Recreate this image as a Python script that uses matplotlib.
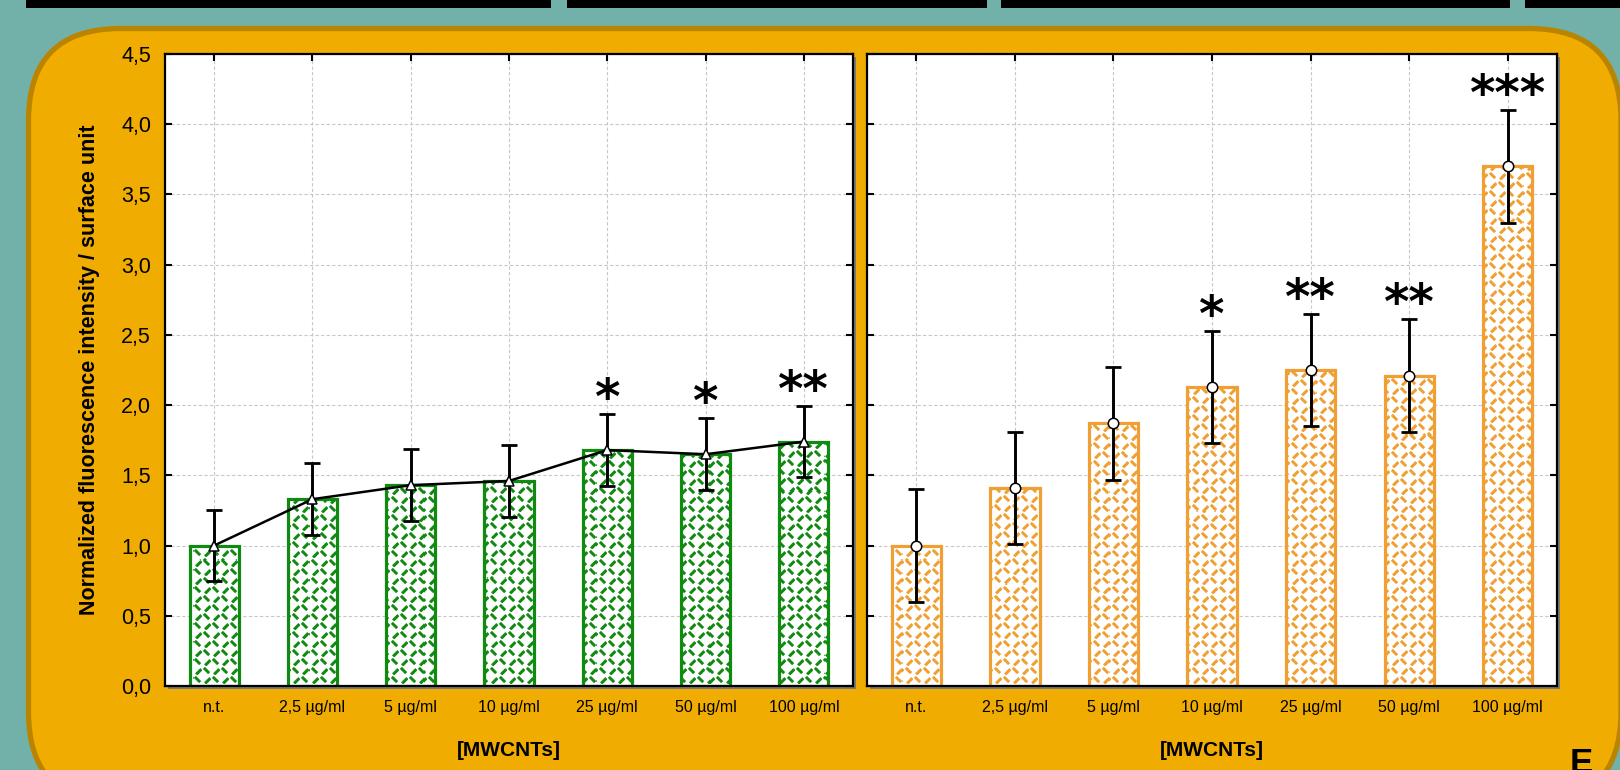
import numpy as np
import matplotlib
matplotlib.use("Agg")
import matplotlib.pyplot as plt
from matplotlib.patches import FancyBboxPatch, Rectangle
from matplotlib.transforms import IdentityTransform

# data
conc = ["n.t.", "2,5 µg/ml", "5 µg/ml", "10 µg/ml", "25 µg/ml", "50 µg/ml", "100 µg/ml"]
left_mean = [1.00, 1.33, 1.43, 1.46, 1.68, 1.65, 1.74]
left_err = [0.255, 0.255, 0.255, 0.255, 0.255, 0.255, 0.255]
left_sig = ["", "", "", "", "*", "*", "**"]
right_mean = [1.00, 1.41, 1.87, 2.13, 2.25, 2.21, 3.70]
right_err = [0.40, 0.40, 0.40, 0.40, 0.40, 0.40, 0.40]
right_sig = ["", "", "", "*", "**", "**", "***"]
yticks = [0.0, 0.5, 1.0, 1.5, 2.0, 2.5, 3.0, 3.5, 4.0, 4.5]
ytick_labels = ["0,0", "0,5", "1,0", "1,5", "2,0", "2,5", "3,0", "3,5", "4,0", "4,5"]

TEAL = "#71b1a9"
ORANGE_BG = "#f0ac00"
ORANGE_EDGE = "#b98500"
GREEN = "#118a11"
ORANGE_BAR = "#f0a033"

W, H = 1620, 770
fig = plt.figure(figsize=(W / 100, H / 100), dpi=100)
fig.patch.set_facecolor(TEAL)

# slide decorations (display pixel coords)
for x0, x1 in [(26, 551), (567, 987), (1001, 1510), (1525, 1625)]:
    fig.add_artist(Rectangle((x0, H - 8), x1 - x0, 10, transform=IdentityTransform(),
                             facecolor="black", edgecolor="none", zorder=-10))
fig.add_artist(FancyBboxPatch((28.5, -34), 1592.5, H - 28.5 + 34,
                              boxstyle="round,pad=0,rounding_size=92",
                              transform=IdentityTransform(), facecolor=ORANGE_BG,
                              edgecolor=ORANGE_EDGE, linewidth=3.8, zorder=-10))


def weave(h, w, color, half=9, dash=3.8, thick=2.0, shift=1.8):
    """short dashes in a checkerboard of \\ and / , like the Statistica fill"""
    yy, xx = np.mgrid[0:h, 0:w]
    qx, qy = (xx // half) % 2, (yy // half) % 2
    a = xx % half + 0.5 - half / 2
    b = yy % half + 0.5 - half / 2
    s2 = np.sqrt(2)
    back = (qx + qy) % 2 == 0
    along = np.where(back, (a + b) / s2, (a - b) / s2)
    perp = np.where(back, (a - b) / s2, (a + b) / s2 - shift)
    alpha = np.clip(thick - np.abs(perp), 0, 1) * np.clip(dash - np.abs(along) + 0.5, 0, 1)
    rgba = np.zeros((h, w, 4))
    rgba[..., :3] = matplotlib.colors.to_rgb(color)
    rgba[..., 3] = alpha
    return rgba


def panel(rect, mean, err, sig, color, marker, connect, show_ylabels):
    ax = fig.add_axes(rect)
    x = np.arange(len(conc))
    ax.set_axisbelow(True)
    ax.grid(True, color="#c8c8c8", linestyle=(0, (3, 2)), linewidth=0.8)
    bars = ax.bar(x, mean, width=0.5, facecolor="white", edgecolor="none", zorder=2)
    wpx = int(round(rect[2] * W))
    hpx = int(round(rect[3] * H))
    tex = weave(hpx, wpx, color)
    for b in bars:
        im = ax.imshow(tex, extent=(0, 1, 0, 1), transform=ax.transAxes, aspect="auto",
                       interpolation="nearest", zorder=2.1)
        im.set_clip_path(b)
    ax.bar(x, mean, width=0.5, facecolor="none", edgecolor=color, linewidth=2.3, zorder=2.2)
    ax.errorbar(x, mean, yerr=err, fmt="none", ecolor="black", elinewidth=2.1,
                capsize=6, capthick=2, zorder=3)
    ax.plot(x, mean, linestyle="-" if connect else "none", color="black", linewidth=1.8,
            marker=marker, markersize=7.5,
            markerfacecolor="white", markeredgecolor="black", markeredgewidth=1.1, zorder=4)
    for xi, m, e, s in zip(x, mean, err, sig):
        if s:
            ax.annotate(s, xy=(xi, m + e), xytext=(0, 0), textcoords="offset points",
                        ha="center", va="baseline", fontsize=35, fontweight="bold",
                        family="DejaVu Sans", zorder=5)
    ax.set_xlim(-0.5, len(conc) - 0.5)
    ax.set_ylim(0, 4.5)
    ax.set_xticks(x)
    ax.set_xticklabels(conc, fontsize=11.5, family="Liberation Sans")
    ax.set_yticks(yticks)
    ax.set_yticklabels(ytick_labels if show_ylabels else [], fontsize=15.5, family="Liberation Sans")
    ax.tick_params(direction="in", length=5, width=1.5, top=True, right=True, pad=10)
    for sp in ax.spines.values():
        sp.set_linewidth(1.6)
    ax.set_xlabel("[MWCNTs]", fontsize=15, fontweight="bold", family="Liberation Sans", labelpad=19)
    # drop shadow behind the plot area
    x0, y0 = rect[0] * W, rect[1] * H
    fig.add_artist(Rectangle((x0 + 3, y0 - 3), rect[2] * W, rect[3] * H, transform=IdentityTransform(),
                             facecolor="#7a7a7a", edgecolor="none", zorder=-5))
    return ax


ax1 = panel([165 / W, 84 / H, 688 / W, 632 / H], left_mean, left_err, left_sig, GREEN, "^", True, True)
ax2 = panel([867 / W, 84 / H, 690 / W, 632 / H], right_mean, right_err, right_sig, ORANGE_BAR, "o", False, False)

ax1.set_ylabel("Normalized fluorescence intensity / surface unit", fontsize=15.5,
               fontweight="bold", family="Liberation Sans")
ax1.yaxis.set_label_coords(-0.094, 0.5)

fig.text(1570 / W, 1 - 747 / H, "E", fontsize=25, fontweight="bold", family="Liberation Sans",
         ha="left", va="top")

fig.savefig("out.png", dpi=100, facecolor=fig.get_facecolor())
